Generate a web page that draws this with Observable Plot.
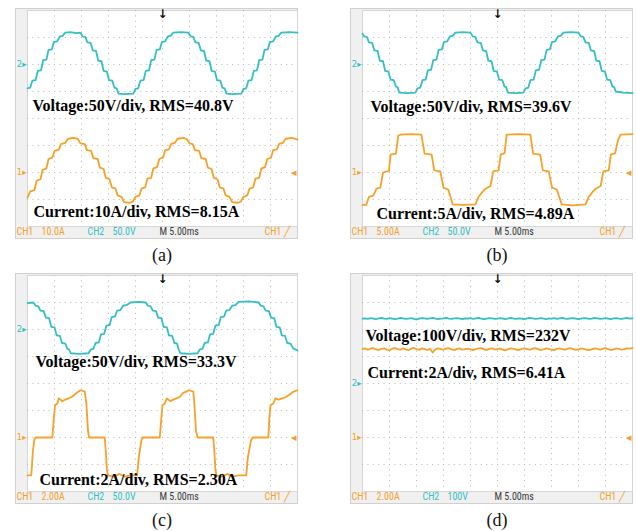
<!DOCTYPE html>
<html>
<head>
<meta charset="utf-8">
<script src="https://cdn.jsdelivr.net/npm/d3@7"></script>
<script src="https://cdn.jsdelivr.net/npm/@observablehq/plot@0.6"></script>
<style>
  html, body { margin: 0; padding: 0; background: white; }
  #root { position: relative; width: 636px; height: 531px; background: white; overflow: hidden; }
  .panel { position: absolute; width: 318px; height: 240px; }
  .cap { position: absolute; font-family: "Liberation Serif", "Times New Roman", serif; font-size: 18px; color: #111; transform: translate(-50%, -50%); }
</style>
</head>
<body>
<div id="root"></div>
<script>
// ---------------- DATA (time in ms, voltage in V, current in A) ----------------
const panelNames = ["(a)", "(b)", "(c)", "(d)"];
const voltLabels = ["Voltage:50V/div, RMS=40.8V", "Voltage:50V/div, RMS=39.6V", "Voltage:50V/div, RMS=33.3V", "Voltage:100V/div, RMS=232V"];
const currLabels = ["Current:10A/div, RMS=8.15A", "Current:5A/div, RMS=4.89A", "Current:2A/div, RMS=2.30A", "Current:2A/div, RMS=6.41A"];
const ch1Text = ["10.0A", "5.00A", "2.00A", "2.00A"];
const ch2Text = ["50.0V", "50.0V", "50.0V", "100V"];
const timebaseText = "M 5.00ms";
const voltPerDiv = [50, 50, 50, 100];
const ampPerDiv = [10, 5, 2, 2];
const ch2Ref = [2, 2, 2, 0];     // channel-2 ground marker (divisions)
const ch1Ref = [-2, -2, -2, -2]; // channel-1 ground marker (divisions)
const timeTicks = [0, 5, 10, 15, 20, 25, 30, 35, 40, 45, 50];
const divTicks = [-4, -3, -2, -1, 0, 1, 2, 3, 4];
const triggerTime = 25;

const voltA = [[0,-44],[0.5,-43],[0.9,-30],[1.5,-29],[1.9,-12],[2.5,-11],[2.9,8],[3.5,9],[3.9,27],[4.5,28],[4.9,42],[5.5,43],[6.0,52],[6.5,53],[7.0,59],[8.0,60],[9.0,58],[9.8,59],
[10.2,52],[10.7,51],[11.1,41],[11.7,40],[12.1,26],[12.7,25],[13.1,7],[13.7,6],[14.1,-12],[14.7,-13],[15.1,-29],[15.7,-30],[16.1,-43],[16.5,-44],[16.85,-54],[18,-55],[19.6,-54],
[20.0,-45],[20.5,-44],[20.9,-30],[21.5,-29],[21.9,-12],[22.5,-11],[22.9,8],[23.5,9],[23.9,27],[24.5,28],[24.9,42],[25.5,43],[26.0,52],[26.5,53],[27.0,59],[28.4,60],[29.8,59],
[30.2,52],[30.7,51],[31.1,41],[31.7,40],[32.1,26],[32.7,25],[33.1,7],[33.7,6],[34.1,-12],[34.7,-13],[35.1,-29],[35.7,-30],[36.1,-43],[36.5,-44],[36.85,-54],[38,-55],[39.6,-54],
[40.0,-45],[40.5,-44],[40.9,-30],[41.5,-29],[41.9,-12],[42.5,-11],[42.9,8],[43.5,9],[43.9,27],[44.5,28],[44.9,42],[45.5,43],[46.0,52],[46.5,53],[47.0,59],[48.5,60],[50,59]];

const currA = [[0,-9.3],[0.5,-7],[1.3,-6.5],[1.7,-3],[2.4,-2.5],[2.8,1],[3.5,1.5],[3.9,5],[4.6,5.5],[5.0,8],[5.8,8.5],[6.2,10.5],[7.0,11],[7.5,12.5],[8.5,12.8],[9.3,12.5],
[9.8,10.8],[10.6,10.5],[11.0,8.3],[11.8,8],[12.2,5.3],[13.0,5],[13.4,1.8],[14.1,1.3],[14.5,-2],[15.2,-2.5],[15.6,-5.5],[16.3,-6],[16.7,-8.5],[17.4,-9],[17.9,-11],[19.0,-11.2],[19.5,-10.8],
[20.0,-9],[20.7,-8.5],[21.1,-6],[21.8,-5.5],[22.2,-2.3],[22.9,-2],[23.3,1.5],[24.0,2],[24.4,5],[25.1,5.5],[25.5,8.3],[26.2,8.6],[26.6,10.6],[27.3,11],[27.8,12.5],[29.0,12.8],[29.5,12.3],
[30.0,10.8],[30.6,10.5],[31.0,8.3],[31.8,8],[32.2,5.3],[33.0,5],[33.4,1.8],[34.1,1.3],[34.5,-2],[35.2,-2.5],[35.6,-5.5],[36.3,-6],[36.7,-8.5],[37.4,-9],[37.9,-11],[39.0,-11.2],[39.5,-10.8],
[40.0,-9],[40.7,-8.5],[41.1,-6],[41.8,-5.5],[42.2,-2.3],[42.9,-2],[43.3,1.5],[44.0,2],[44.4,5],[45.1,5.5],[45.5,8.3],[46.2,8.6],[46.6,10.6],[47.3,11],[47.8,12.5],[49.0,12.8],[50,12.2]];

const voltB = [[0,57],[0.3,52],[0.8,51],[1.2,41],[1.8,40],[2.2,26],[2.8,25],[3.2,7],[3.8,6],[4.2,-12],[4.8,-13],[5.2,-28],[5.8,-29],[6.2,-41],[6.5,-42],[6.8,-52],[8.2,-53],[9.8,-52],
[10.2,-44],[10.7,-43],[11.1,-29],[11.7,-28],[12.1,-11],[12.7,-10],[13.1,8],[13.7,9],[14.1,27],[14.7,28],[15.1,42],[15.7,43],[16.2,52],[16.7,53],[17.2,59],[18.6,60],[20.0,59],
[20.4,52],[20.9,51],[21.3,41],[21.9,40],[22.3,26],[22.9,25],[23.3,7],[23.9,6],[24.3,-12],[24.9,-13],[25.3,-28],[25.9,-29],[26.3,-41],[26.6,-42],[26.9,-52],[28.3,-53],[29.8,-52],
[30.2,-44],[30.7,-43],[31.1,-29],[31.7,-28],[32.1,-11],[32.7,-10],[33.1,8],[33.7,9],[34.1,27],[34.7,28],[35.1,42],[35.7,43],[36.2,52],[36.7,53],[37.2,59],[38.6,60],[40.0,59],
[40.4,52],[40.9,51],[41.3,41],[41.9,40],[42.3,26],[42.9,25],[43.3,7],[43.9,6],[44.3,-12],[44.9,-13],[45.3,-28],[45.9,-29],[46.3,-41],[46.6,-42],[46.9,-50],[48.3,-52],[50,-53]];

const currB = [[0,-6],[0.7,-6],[1.2,-4.5],[2.0,-4.3],[2.6,-3],[3.3,-2.8],[3.8,0],[4.9,0.3],[5.2,3.3],[6.2,3.5],[6.6,6.8],[7.0,7],[9.0,7.1],[10.9,7],
[11.5,3.5],[12.8,3.3],[13.3,0.4],[14.4,0.2],[15.0,-2.8],[15.9,-3.2],[16.7,-5.9],[18.5,-6.0],[20.9,-5.9],
[21.5,-4.5],[22.3,-3.5],[22.8,-3],[23.7,-2.5],[24.2,0.2],[25.2,0.4],[25.6,3.3],[26.3,3.6],[26.7,7],[29,7.1],[31.1,7],
[31.6,3.5],[32.9,3.3],[33.4,0.4],[34.5,0.2],[35.1,-2.8],[36.0,-3.2],[36.9,-5.9],[39,-6.1],[41.3,-5.9],
[41.9,-4.5],[42.7,-3.5],[43.2,-3],[44.1,-2.5],[44.6,0.2],[45.6,0.4],[46.0,3.3],[46.8,3.6],[47.3,6],[47.8,7],[50,7.1]];

const voltC = [[0,49],[1.1,50],[1.5,44],[2.0,43],[2.4,35],[3.0,34],[3.4,22],[4.0,21],[4.4,5],[5.0,4],[5.4,-11],[6.0,-12],[6.4,-25],[7.0,-26],[7.4,-36],[7.7,-37],[8.0,-44],[9.6,-45],[11.3,-44],
[11.7,-37],[12.2,-36],[12.6,-25],[13.2,-24],[13.6,-9],[14.2,-8],[14.6,7],[15.2,8],[15.6,23],[16.2,24],[16.6,35],[17.2,36],[17.7,44],[18.3,45],[19.1,50],[20.5,51],[21.9,50],
[22.3,44],[22.8,43],[23.2,35],[23.8,34],[24.2,22],[24.8,21],[25.2,5],[25.8,4],[26.2,-11],[26.8,-12],[27.2,-25],[27.7,-26],[28.0,-37],[28.3,-44],[30.0,-45],[31.5,-44],
[31.9,-37],[32.4,-36],[32.8,-25],[33.4,-24],[33.8,-9],[34.4,-8],[34.8,7],[35.4,8],[35.8,23],[36.4,24],[36.8,35],[37.4,36],[37.9,44],[38.5,45],[39.1,51],[41,52],[42.8,50],
[43.2,44],[43.7,43],[44.1,35],[44.7,34],[45.1,22],[45.7,21],[46.1,5],[46.7,4],[47.1,-11],[47.7,-12],[48.1,-25],[48.7,-26],[49.2,-35],[50,-39]];

const currC = [[0,-2.8],[0.7,-2.8],[1.0,-1],[1.3,-0.1],[1.5,0],[4.6,0],[4.9,1.5],[5.1,2.4],[5.5,2.5],[5.8,2.9],[6.4,2.7],[7.0,2.8],[7.6,2.9],[8.2,3.0],[8.8,3.2],[9.4,3.4],[9.9,3.5],[10.6,3.4],
[10.9,2.5],[11.2,0.5],[11.4,0],[14.3,0],[14.5,-1],[14.7,-2.4],[14.9,-2.8],[16,-2.9],[17,-2.7],[18,-2.9],[19,-2.8],[20.3,-2.8],[20.6,-1.5],[21.1,-0.2],[21.3,0],[24.5,0],
[24.8,1.5],[25.0,2.4],[25.4,2.5],[25.8,2.9],[26.4,2.7],[27.0,2.8],[27.6,2.9],[28.2,3.0],[28.8,3.3],[29.4,3.4],[29.9,3.5],[30.7,3.4],[30.9,2.5],[31.2,0.5],[31.5,0],[34.4,0],
[34.6,-1],[34.8,-2.4],[35.0,-2.8],[36,-2.9],[37,-2.7],[38,-2.9],[39,-2.8],[40.5,-2.8],[40.8,-1.5],[41.4,-0.2],[41.7,0],[44.6,0],
[44.8,1.5],[45.0,2.4],[45.5,2.5],[45.9,2.9],[46.5,2.8],[47.2,2.9],[47.9,3.0],[48.6,3.2],[49.3,3.4],[50,3.5]];

const sampleIntervalD = 0.5; // ms between samples of panel (d)
const voltDSamples = [240,241,239,242,240,238,241,243,240,239,
242,240,238,240,243,241,239,240,242,239,
237,240,242,241,239,241,243,240,238,240,
241,243,240,239,241,242,240,238,241,240,
242,239,241,243,240,238,240,242,241,239,
240,242,240,238,241,243,240,239,241,240,
238,241,243,241,239,240,242,240,238,241,
240,242,239,241,243,240,239,241,242,240,
238,240,242,241,239,240,243,241,239,240,
242,240,238,241,242,240,239,241,243,240,241];
const currDSamples = [6.55,6.60,6.50,6.58,6.62,6.52,6.48,6.56,6.60,6.50,
6.45,6.58,6.62,6.55,6.50,6.60,6.52,6.47,6.58,6.63,
6.55,6.50,6.60,6.55,6.48,6.57,6.30,6.52,6.60,6.55,
6.50,6.58,6.62,6.52,6.47,6.56,6.60,6.50,6.55,6.58,
6.52,6.47,6.55,6.60,6.62,6.53,6.48,6.56,6.60,6.52,
6.55,6.58,6.50,6.46,6.55,6.60,6.57,6.50,6.48,6.56,
6.60,6.55,6.50,6.58,6.62,6.55,6.48,6.52,6.60,6.56,
6.50,6.47,6.56,6.60,6.54,6.50,6.58,6.62,6.55,6.49,
6.52,6.60,6.57,6.50,6.47,6.55,6.60,6.56,6.50,6.58,
6.62,6.55,6.48,6.52,6.60,6.57,6.50,6.55,6.60,6.58,6.62];
const voltD = voltDSamples.map((v, i) => [i * sampleIntervalD, v]);
const currD = currDSamples.map((v, i) => [i * sampleIntervalD, v]);

const voltSeries = [voltA, voltB, voltC, voltD];
const currSeries = [currA, currB, currC, currD];

// ---------------- STYLE / LAYOUT ----------------
const TEAL = "#35bfc3";
const ORANGE = "#f6a12a";
const panelPos = [{left: 0, top: 0, ml: 27, mr: 21}, {left: 318, top: 0, ml: 44, mr: 4},
                  {left: 0, top: 265, ml: 27, mr: 21}, {left: 318, top: 265, ml: 44, mr: 4}];
const voltLabelOff = [[5, 100], [8, 101], [8, 91], [3, 65]];
const currLabelOff = [[6, 206], [14, 208], [12, 209], [5, 102]];
const serif = "Liberation Serif, Times New Roman, serif";
const narrow = "Liberation Sans Narrow, Roboto Condensed, Liberation Sans, Arial, sans-serif";

const root = document.getElementById("root");

function statusText(label, dx, color) {
  return Plot.text([label], {frameAnchor: "bottom-left", text: d => d, dx, dy: 5.5, lineAnchor: "middle",
    textAnchor: "start", fill: color, fontSize: 10, fontFamily: narrow});
}

for (let i = 0; i < 4; i++) {
  const p = panelPos[i];
  const vs = voltPerDiv[i], is = ampPerDiv[i], vr = ch2Ref[i], ir = ch1Ref[i];
  const chart = Plot.plot({
    width: 318, height: 240,
    marginLeft: p.ml, marginRight: p.mr, marginTop: 10, marginBottom: 14,
    style: {background: "transparent", overflow: "visible"},
    x: {domain: [0, 50], axis: null},
    y: {domain: [-4, 4], axis: null},
    marks: [
      Plot.frame({fill: "#f0f0f0", stroke: "#d0d0d0", insetLeft: -12, insetTop: -2, insetBottom: -12}),
      Plot.frame({fill: "white", stroke: "#d6d6d6"}),
      Plot.ruleX(timeTicks.slice(1, -1), {stroke: "#b5b5b5", strokeDasharray: "1,4.4"}),
      Plot.ruleY(divTicks.slice(1, -1), {stroke: "#b5b5b5", strokeDasharray: "1,4.4"}),
      Plot.line(voltSeries[i], {x: d => d[0], y: d => d[1] / vs + vr, stroke: TEAL, strokeWidth: 1.8}),
      Plot.line(currSeries[i], {x: d => d[0], y: d => d[1] / is + ir, stroke: ORANGE, strokeWidth: 1.8}),
      Plot.text([vr], {y: d => d, frameAnchor: "left", text: () => "2▸", textAnchor: "end", dx: -1, fill: TEAL, fontSize: 8.5, fontFamily: "DejaVu Sans"}),
      Plot.text([ir], {y: d => d, frameAnchor: "left", text: () => "1▸", textAnchor: "end", dx: -1, fill: ORANGE, fontSize: 8.5, fontFamily: "DejaVu Sans"}),
      Plot.text([ir], {y: d => d, frameAnchor: "right", text: () => "◂", textAnchor: "end", dx: -1, fill: ORANGE, fontSize: 11, fontFamily: "DejaVu Sans"}),
      Plot.text([triggerTime], {x: d => d, frameAnchor: "top", text: () => "↓", dy: 4, lineAnchor: "middle", fill: "#111", fontSize: 12, fontWeight: "bold", fontFamily: "DejaVu Sans"}),
      Plot.text([voltLabels[i]], {frameAnchor: "top-left", text: d => d, dx: voltLabelOff[i][0], dy: voltLabelOff[i][1],
        textAnchor: "start", lineAnchor: "bottom", fill: "#000", fontSize: 16, fontWeight: "bold", fontFamily: serif}),
      Plot.text([currLabels[i]], {frameAnchor: "top-left", text: d => d, dx: currLabelOff[i][0], dy: currLabelOff[i][1],
        textAnchor: "start", lineAnchor: "bottom", fill: "#000", fontSize: 16, fontWeight: "bold", fontFamily: serif}),
      statusText("CH1", -11, ORANGE),
      statusText(ch1Text[i], 14, ORANGE),
      statusText("CH2", 60, TEAL),
      statusText(ch2Text[i], 85, TEAL),
      statusText(timebaseText, 132, "#3a3a3a"),
      statusText("CH1 ╱", 237, ORANGE)
    ]
  });
  const wrap = document.createElement("div");
  wrap.className = "panel";
  wrap.style.left = p.left + "px";
  wrap.style.top = p.top + "px";
  wrap.appendChild(chart);
  root.appendChild(wrap);

  const cap = document.createElement("div");
  cap.className = "cap";
  cap.textContent = panelNames[i];
  cap.style.left = (p.left + p.ml + 135) + "px";
  cap.style.top = (p.top + 255) + "px";
  root.appendChild(cap);
}
</script>
</body>
</html>
